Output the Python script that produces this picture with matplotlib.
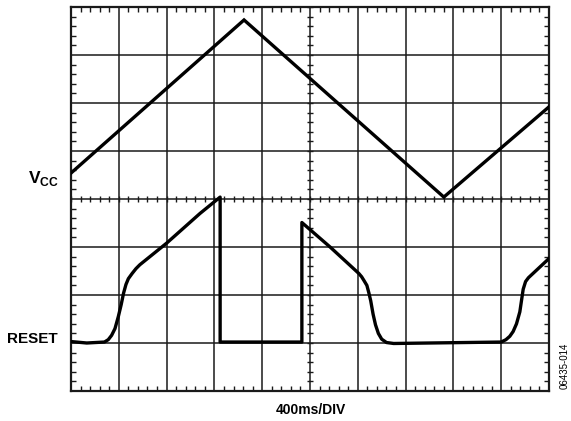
import numpy as np
import matplotlib
matplotlib.use("Agg")
import matplotlib.pyplot as plt
from matplotlib.ticker import MultipleLocator

plt.rcParams["font.family"] = ["Liberation Sans", "DejaVu Sans"]
plt.rcParams["mathtext.fontset"] = "custom"
plt.rcParams["mathtext.rm"] = "Liberation Sans"
plt.rcParams["mathtext.bf"] = "Liberation Sans:bold"

# ---------------------------------------------------------
# DATA (grid divisions: x 0..10, y 0..8)
# ---------------------------------------------------------
vcc_x = [0.0, 3.62, 7.80, 10.0]
vcc_y = [4.54, 7.73, 4.04, 5.92]

reset_x = [0.0, 0.33, 0.70, 0.78, 0.85, 0.92, 0.99, 1.05, 1.10, 1.15, 1.20,
           1.28, 1.36, 1.44, 2.00, 2.70, 3.12,
           3.12, 4.83, 4.83, 5.42, 6.02, 6.08, 6.13, 6.19, 6.23, 6.27,
           6.32, 6.37, 6.43, 6.50, 6.60, 6.75,
           7.50, 9.00, 9.10, 9.18, 9.25, 9.32, 9.39, 9.43, 9.46, 9.51, 9.57,
           10.0]
reset_y = [1.03, 1.00, 1.02, 1.07, 1.16, 1.30, 1.55, 1.80, 2.04, 2.22, 2.34,
           2.45, 2.55, 2.63, 3.08, 3.70, 4.04,
           1.02, 1.02, 3.51, 3.00, 2.45, 2.38, 2.30, 2.20, 2.05, 1.88,
           1.60, 1.38, 1.20, 1.08, 1.01, 0.99,
           1.00, 1.02, 1.07, 1.14, 1.24, 1.40, 1.65, 1.92, 2.12, 2.28, 2.36,
           2.76]

N_DIV_X = 10
N_DIV_Y = 8

# ---------------------------------------------------------
# FIGURE
# ---------------------------------------------------------
fig = plt.figure(figsize=(5.71, 4.21), dpi=100, facecolor="white")
ax = fig.add_axes([71 / 571, 30 / 421, 478 / 571, 384 / 421])
ax.set_xlim(0, N_DIV_X)
ax.set_ylim(0, N_DIV_Y)

# grid
for gx in range(1, N_DIV_X):
    ax.axvline(gx, color="#1a1a1a", lw=1.1, zorder=1)
for gy in range(1, N_DIV_Y):
    ax.axhline(gy, color="#1a1a1a", lw=1.1, zorder=1)

# crosshair ticks on center lines
tx = np.arange(0, N_DIV_X + 0.01, 0.2)
ty = np.arange(0, N_DIV_Y + 0.01, 0.2)
ax.plot(tx, np.full_like(tx, N_DIV_Y / 2), ls="none", marker="|",
        ms=5, mew=1.0, color="#1a1a1a", zorder=1)
ax.plot(np.full_like(ty, N_DIV_X / 2), ty, ls="none", marker="_",
        ms=5, mew=1.0, color="#1a1a1a", zorder=1)

# border ticks
ax.xaxis.set_major_locator(MultipleLocator(1))
ax.yaxis.set_major_locator(MultipleLocator(1))
ax.xaxis.set_minor_locator(MultipleLocator(0.2))
ax.yaxis.set_minor_locator(MultipleLocator(0.2))
ax.tick_params(which="both", direction="in", top=True, right=True,
               labelbottom=False, labelleft=False, color="#1a1a1a")
ax.tick_params(which="minor", length=3.5, width=1.0)
ax.tick_params(which="major", length=0)
for s in ax.spines.values():
    s.set_linewidth(1.6)
    s.set_color("#1a1a1a")

# traces
ax.plot(vcc_x, vcc_y, color="black", lw=2.4, solid_joinstyle="miter", zorder=3)
ax.plot(reset_x, reset_y, color="black", lw=2.4, solid_joinstyle="round", zorder=3)

# labels
ax.text(-0.25, 4.42, r"$\mathbf{V}_{\mathbf{CC}}$", ha="right", va="center",
        fontsize=12.5)
ax.text(-0.27, 1.08, "RESET", ha="right", va="center", fontsize=11,
        fontweight="bold")
fig.text(311 / 571, 1 - 410 / 421, "400ms/DIV", ha="center", va="center",
         fontsize=10, fontweight="bold")
fig.text(565 / 571, 1 - 366 / 421, "06435-014", ha="center", va="center",
         rotation=90, fontsize=7)

fig.savefig("out.png", dpi=100, facecolor="white")
